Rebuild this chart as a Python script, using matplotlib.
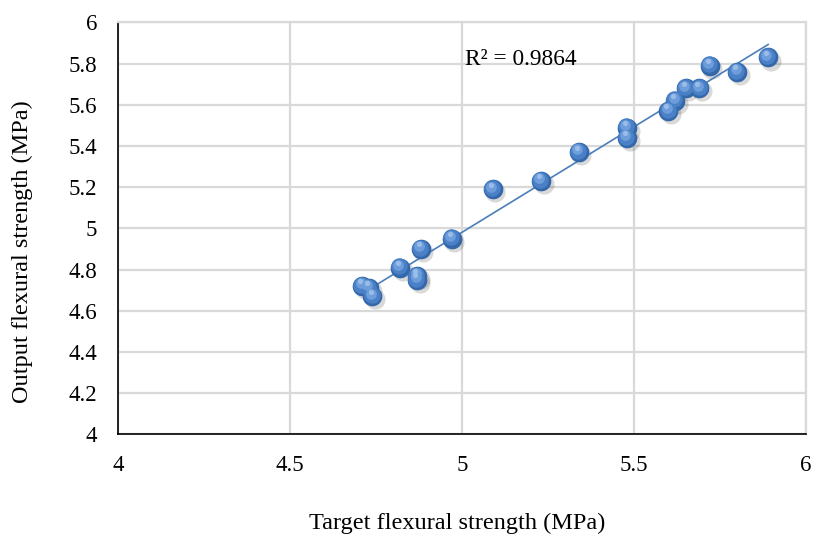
import numpy as np
import matplotlib
matplotlib.use("Agg")
import matplotlib.pyplot as plt
from matplotlib.transforms import ScaledTranslation

# target vs output flexural strength (MPa)
target = [4.71, 4.73, 4.74, 4.82, 4.87, 4.87, 4.88, 4.97, 5.09, 5.23,
          5.34, 5.48, 5.48, 5.60, 5.62, 5.65, 5.69, 5.72, 5.80, 5.89]
output = [4.72, 4.71, 4.67, 4.81, 4.77, 4.75, 4.90, 4.95, 5.19, 5.23,
          5.37, 5.49, 5.44, 5.57, 5.62, 5.68, 5.68, 5.79, 5.76, 5.83]
x_ticks = [4, 4.5, 5, 5.5, 6]
y_ticks = [4, 4.2, 4.4, 4.6, 4.8, 5, 5.2, 5.4, 5.6, 5.8, 6]
r2_label = "R² = 0.9864"

plt.rcParams['font.family'] = ['Liberation Serif', 'DejaVu Serif']

fig = plt.figure(figsize=(8.13, 5.43), dpi=100)
ax = fig.add_axes([0.145, 0.2, 0.8464, 0.7586])

ax.set_xlim(4, 6)
ax.set_ylim(4, 6)
ax.set_xticks(x_ticks)
ax.set_yticks(y_ticks)
ax.set_xticklabels([f"{v:g}" for v in x_ticks])
ax.set_yticklabels([f"{v:g}" for v in y_ticks])
ax.tick_params(length=0, labelsize=16.5)
ax.tick_params(axis='x', pad=15)
ax.tick_params(axis='y', pad=15)
ax.grid(True, color='#d9d9d9', linewidth=1.6)
ax.set_axisbelow(True)
for side in ['top', 'right']:
    ax.spines[side].set_color('#d9d9d9')
    ax.spines[side].set_linewidth(1.6)
for side in ['left', 'bottom']:
    ax.spines[side].set_color('black')
    ax.spines[side].set_linewidth(1.2)

# linear trend line across the data range
k, b = np.polyfit(target, output, 1)
xs = np.array([min(target), max(target)])
ax.plot(xs, k * xs + b, color='#4a7ebb', linewidth=1.2, zorder=3)

# fake 3D spheres: shadow, body, lighter core, soft highlight
shadow = ax.transData + ScaledTranslation(1.8 / 72, -2.2 / 72, fig.dpi_scale_trans)
ax.scatter(target, output, s=210, color='#000000', alpha=0.15, linewidths=0,
           transform=shadow, zorder=2)
ax.scatter(target, output, s=200, color='#3468ab', linewidths=0, zorder=4)
mid = ax.transData + ScaledTranslation(-0.6 / 72, 0.9 / 72, fig.dpi_scale_trans)
ax.scatter(target, output, s=140, color='#4a80c6', linewidths=0,
           transform=mid, zorder=5)
core = ax.transData + ScaledTranslation(-1.2 / 72, 2.0 / 72, fig.dpi_scale_trans)
ax.scatter(target, output, s=60, color='#6d9ddb', linewidths=0,
           transform=core, zorder=6)
hi = ax.transData + ScaledTranslation(-1.4 / 72, 3.4 / 72, fig.dpi_scale_trans)
ax.scatter(target, output, s=14, color='#a6c5ec', alpha=0.8, linewidths=0,
           transform=hi, zorder=7)

ax.text(5.01, 5.793, r2_label, fontsize=16.8, ha='left', va='baseline', zorder=8)

fig.text(0.562, 0.037, "Target flexural strength (MPa)", fontsize=17.5,
         ha='center', va='center')
fig.text(0.027, 0.536, "Output flexural strength (MPa)", fontsize=17.5,
         ha='center', va='center', rotation=90)

fig.savefig("out.png", dpi=100)
